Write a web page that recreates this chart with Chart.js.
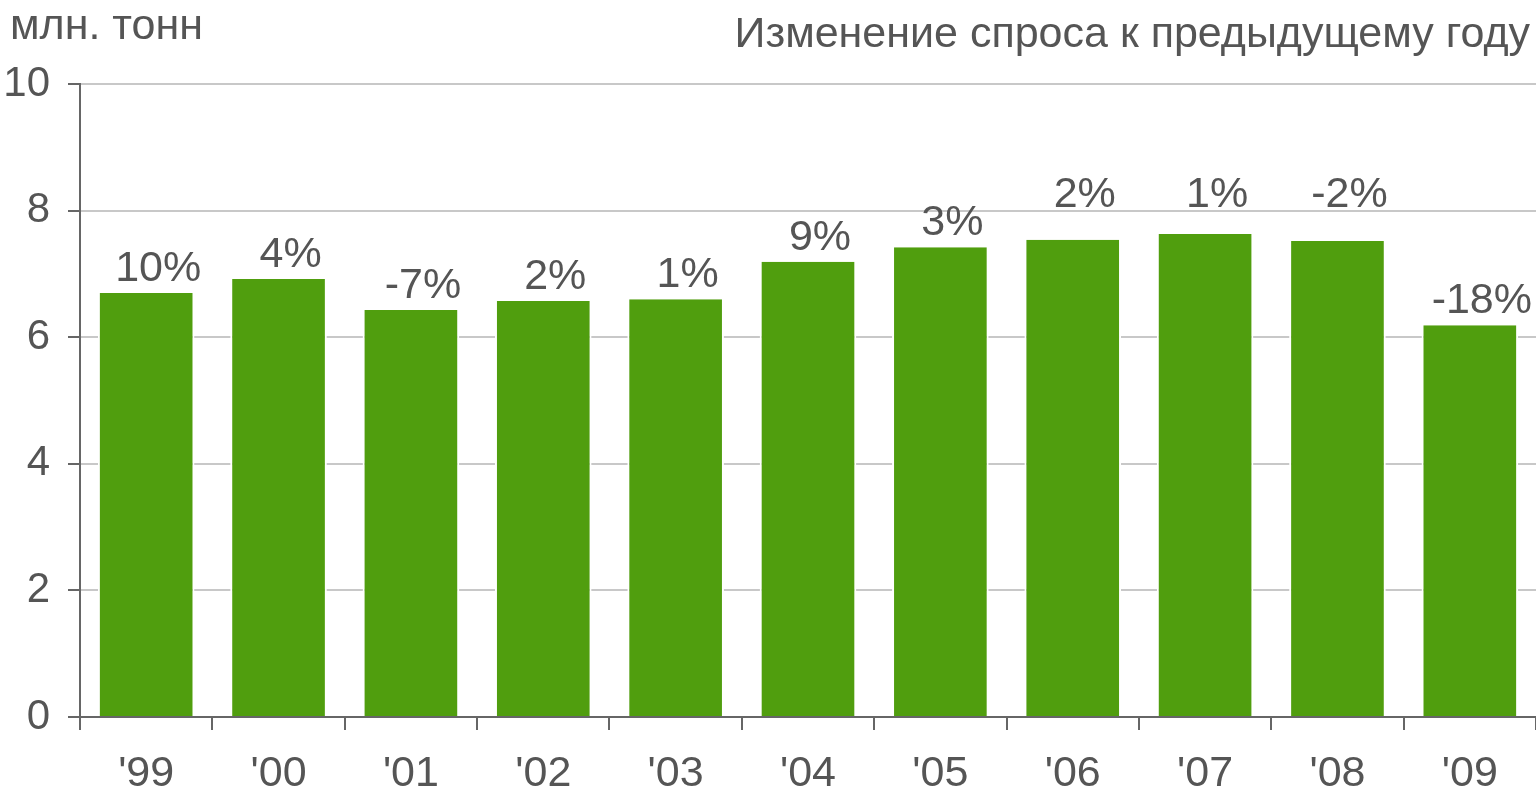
<!DOCTYPE html>
<html>
<head>
<meta charset="utf-8">
<script src="https://cdn.jsdelivr.net/npm/chart.js@4"></script>
<style>
  html, body { margin: 0; padding: 0; background: #fff; }
  #wrap { width: 1536px; height: 791px; }
</style>
</head>
<body>
<div id="wrap"><canvas id="mycanvas"></canvas></div>
<script>
// data
var years = ["'99", "'00", "'01", "'02", "'03", "'04", "'05", "'06", "'07", "'08", "'09"];
var demand = [6.70, 6.92, 6.43, 6.57, 6.60, 7.19, 7.42, 7.54, 7.63, 7.52, 6.19];
var change = ['10%', '4%', '-7%', '2%', '1%', '9%', '3%', '2%', '1%', '-2%', '-18%'];
var yTicks = [0, 2, 4, 6, 8, 10];

var FONT = 'Arial, "Liberation Sans", sans-serif';
var TXT = '#555555';

// headers and the % labels over the bars
var textPlugin = {
	id: 'texts',
	afterDatasetsDraw: function(chart){
		var ctx = chart.ctx;
		ctx.save();
		ctx.fillStyle = TXT;
		ctx.font = '43px ' + FONT;
		ctx.textBaseline = 'alphabetic';
		ctx.textAlign = 'left';
		ctx.fillText('млн. тонн', 10, 39);
		ctx.textAlign = 'right';
		ctx.fillText('Изменение спроса к предыдущему году', 1530, 47);
		ctx.textAlign = 'center';
		// labels that would sit on the "8" gridline are lifted above it
		var g8 = chart.scales.y.getPixelForValue(8);
		var meta = chart.getDatasetMeta(0);
		meta.data.forEach(function(bar, i){
			var base = bar.y - 12;
			if (base - g8 < 20) base = g8 - 4;
			ctx.fillText(change[i], bar.x + 12, base);
		});
		ctx.restore();
	}
};

var ctx = document.getElementById('mycanvas');
var chart = new Chart(ctx, {
	type: 'bar',
	data: {
		labels: years,
		datasets: [{
			label: 'млн. тонн',
			data: demand,
			backgroundColor: '#509e0e',
			borderColor: '#ffffff',
			borderWidth: { top: 0, left: 2, right: 2, bottom: 0 },
			barPercentage: 0.73,
			categoryPercentage: 1.0
		}]
	},
	options: {
		responsive: true,
		maintainAspectRatio: false,
		animation: false,
		layout: { padding: { top: 84, left: 0, right: 0, bottom: 0 } },
		plugins: {
			legend: { display: false },
			tooltip: { enabled: false }
		},
		scales: {
			x: {
				afterFit: function(scale){ scale.height = 74; },
				grid: {
					offset: true,
					drawOnChartArea: false,
					tickLength: 13,
					tickColor: '#666666',
					lineWidth: 2
				},
				border: { color: '#666666', width: 2 },
				ticks: { color: TXT, font: { size: 43, family: FONT, lineHeight: 1 }, padding: 23 }
			},
			y: {
				min: 0,
				max: 10,
				afterFit: function(scale){ scale.width = 80; },
				afterBuildTicks: function(scale){
					scale.ticks = yTicks.map(function(v){ return { value: v }; });
				},
				grid: {
					color: '#c8c8c8',
					lineWidth: 2,
					tickLength: 12,
					tickColor: '#666666'
				},
				border: { color: '#666666', width: 2 },
				ticks: { color: TXT, font: { size: 42, family: FONT }, padding: 18 }
			}
		}
	},
	plugins: [textPlugin]
});
</script>
</body>
</html>
